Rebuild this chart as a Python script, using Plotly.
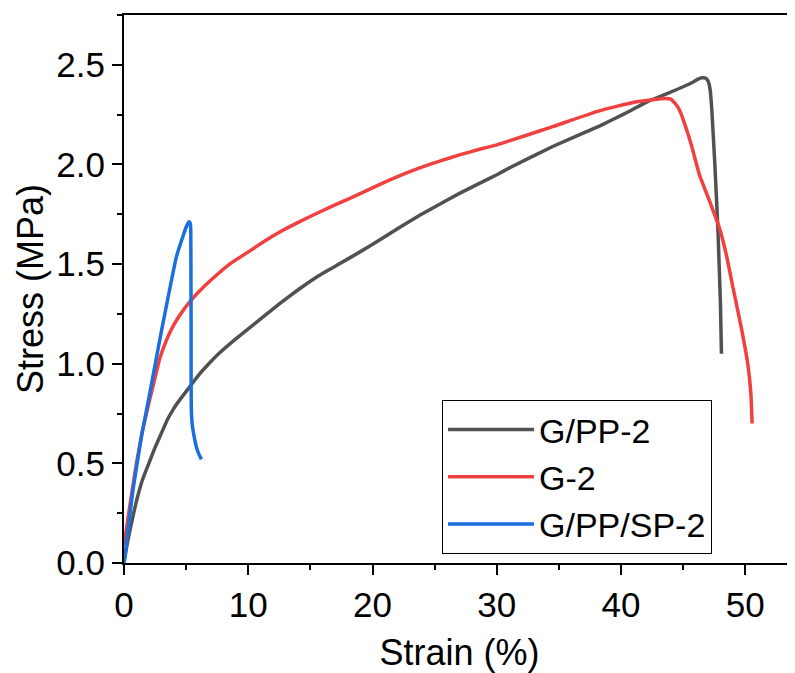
import plotly.graph_objects as go

# ---- data ----
gpp_strain = [0, 0.3, 0.6, 1.0, 1.5, 2.0, 2.5, 3.0, 3.5, 4.0, 4.5, 5.3, 6.1, 6.9, 7.7, 8.9, 10.1,
              11.3, 12.5, 14.1, 15.7, 17.3, 18.96, 20.6, 22.2, 23.8, 25.4, 27.0, 28.6, 30.0,
              31.0, 34.5, 38.3, 40.3, 42.3, 43.7, 45.0, 45.7, 46.2, 46.5, 46.8, 47.0, 47.1,
              47.2, 47.3, 47.55, 47.8, 48.0, 48.08]
gpp_stress = [0, 0.11, 0.2, 0.31, 0.42, 0.50, 0.58, 0.65, 0.72, 0.775, 0.82, 0.885, 0.95, 1.005,
              1.055, 1.12, 1.18, 1.24, 1.30, 1.375, 1.443, 1.50, 1.56, 1.622, 1.685, 1.745,
              1.80, 1.855, 1.905, 1.948, 1.982, 2.09, 2.194, 2.255, 2.32, 2.355, 2.39, 2.41, 2.428,
              2.435, 2.433, 2.42, 2.40, 2.36, 2.28, 2.0, 1.67, 1.3, 1.05]

g_strain = [0, 0.5, 1.0, 1.5, 2.07, 2.5, 2.87, 3.3, 3.68, 4.1, 4.5, 5.29, 6.0, 7.0, 8.5, 10.1, 11.3,
            12.5, 14.1, 15.7, 17.3, 18.96, 20.6, 22.2, 23.8, 25.4, 27.0, 28.6, 30.0, 31.0, 34.5,
            38.3, 40.95, 42.5, 43.6, 44.0, 44.3, 44.6, 44.84, 45.25, 45.65, 46.3, 47.1, 47.9,
            48.5, 49.0, 49.67, 50.2, 50.45, 50.55]
g_stress = [0.09, 0.3, 0.5, 0.67, 0.82, 0.93, 1.025, 1.10, 1.155, 1.205, 1.245, 1.31, 1.36, 1.42,
            1.50, 1.565, 1.615, 1.66, 1.712, 1.76, 1.806, 1.852, 1.90, 1.944, 1.983, 2.017, 2.048,
            2.076, 2.098, 2.118, 2.19, 2.27, 2.311, 2.325, 2.331, 2.328, 2.31, 2.285, 2.253, 2.18,
            2.10, 1.95, 1.82, 1.685, 1.54, 1.385, 1.184, 1.0, 0.85, 0.70]

gpps_strain = [0, 0.72, 1.40, 2.07, 3.0, 3.6, 4.21, 4.8, 5.0, 5.15, 5.25, 5.33, 5.37, 5.38, 5.39,
               5.40, 5.40, 5.41, 5.43, 5.5, 5.6, 5.72, 5.82, 6.0, 6.23]
gpps_stress = [0, 0.366, 0.633, 0.85, 1.16, 1.35, 1.535, 1.65, 1.685, 1.705, 1.712, 1.705, 1.68,
               1.6, 1.4, 1.2, 0.95, 0.82, 0.75, 0.69, 0.65, 0.61, 0.583, 0.55, 0.52]

series_names = ["G/PP-2", "G-2", "G/PP/SP-2"]
series_colors = ["#515151", "#F14040", "#1A6FDF"]

x_ticks = [0, 10, 20, 30, 40, 50]
y_ticks = [0.0, 0.5, 1.0, 1.5, 2.0, 2.5]
y_tick_labels = ["0.0", "0.5", "1.0", "1.5", "2.0", "2.5"]

FONT = "Arial, Liberation Sans, sans-serif"

fig = go.Figure()
for xs, ys, name, col in zip([gpp_strain, g_strain, gpps_strain],
                             [gpp_stress, g_stress, gpps_stress],
                             series_names, series_colors):
    fig.add_trace(go.Scatter(x=xs, y=ys, mode="lines", name=name,
                             line=dict(color=col, width=3.5, shape="spline", smoothing=0.3)))

# the page body has an 8px margin, so the figure is sized/offset to fill the 795x673 window
fig.update_layout(
    width=787, height=665,
    margin=dict(l=116, r=0, t=7, b=110),
    plot_bgcolor="white", paper_bgcolor="white",
    font=dict(family=FONT, color="black"),
    showlegend=True,
    legend=dict(x=0.474, y=0.157, xanchor="left", yanchor="middle",
                bgcolor="white", bordercolor="black", borderwidth=1,
                font=dict(size=34, family=FONT), itemwidth=86, tracegroupgap=0),
    xaxis=dict(range=[0, 54], tickvals=x_ticks, ticks="outside", ticklen=10, tickwidth=1.5,
               tickcolor="black", showline=True, linecolor="black", linewidth=2, mirror=True,
               showgrid=False, zeroline=False, tickfont=dict(size=35, family=FONT),
               automargin=False,
               minor=dict(dtick=5, ticks="outside", ticklen=5, tickwidth=1.5, tickcolor="black"),
               title=dict(text="Strain (%)", font=dict(size=36, family=FONT), standoff=26)),
    yaxis=dict(range=[0, 2.75], tickvals=y_ticks, ticktext=y_tick_labels, ticks="outside",
               ticklen=10, tickwidth=1.5, tickcolor="black", showline=True, linecolor="black",
               linewidth=2, mirror=False, showgrid=False, zeroline=False,
               automargin=False,
               tickfont=dict(size=35, family=FONT),
               minor=dict(dtick=0.25, ticks="outside", ticklen=5, tickwidth=1.5, tickcolor="black"),
               title=dict(text="Stress (MPa)", font=dict(size=36, family=FONT), standoff=2)),
)

fig.write_html("out.html")
